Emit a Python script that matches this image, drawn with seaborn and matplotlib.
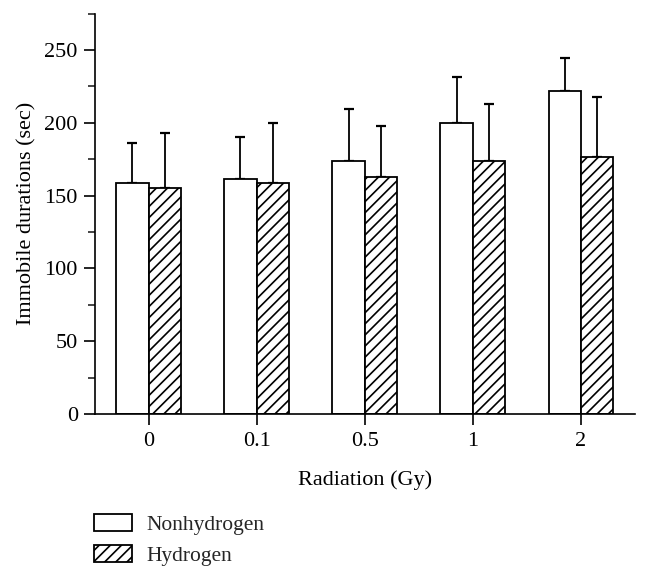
import matplotlib
matplotlib.use("Agg")
import matplotlib.pyplot as plt
from matplotlib.patches import Patch
from matplotlib.ticker import MultipleLocator
import numpy as np
import pandas as pd
import seaborn as sns

# ---- data ----
doses = ["0", "0.1", "0.5", "1", "2"]
groups = ["Nonhydrogen", "Hydrogen"]
nonhydrogen_mean = [158.6, 161.3, 173.4, 199.5, 221.9]
nonhydrogen_sd = [27.4, 29.1, 35.7, 32.2, 22.8]
hydrogen_mean = [155.4, 158.3, 162.7, 173.9, 176.7]
hydrogen_sd = [37.4, 41.2, 35.2, 39.3, 40.8]

df = pd.DataFrame({
    "dose": doses * 2,
    "group": [groups[0]] * len(doses) + [groups[1]] * len(doses),
    "mean": nonhydrogen_mean + hydrogen_mean,
})
sds = [nonhydrogen_sd, hydrogen_sd]

sns.set_theme(style="ticks")
plt.rcParams["font.family"] = ["Liberation Serif", "DejaVu Serif"]
plt.rcParams["hatch.linewidth"] = 1.2
plt.rcParams["hatch.color"] = "black"

fig = plt.figure(figsize=(6.5, 5.8), dpi=100)
ax = fig.add_axes([94.5 / 650, 1 - 414 / 580, (635 - 94.5) / 650, (414 - 13.5) / 580])

sns.barplot(data=df, x="dose", y="mean", hue="group", order=doses, hue_order=groups,
            palette={"Nonhydrogen": "white", "Hydrogen": "white"},
            edgecolor="black", linewidth=1.3, width=0.6, errorbar=None,
            saturation=1, ax=ax)

for container, sd, hatch in zip(ax.containers, sds, ["", "///"]):
    xs, ys = [], []
    for bar in container:
        bar.set_hatch(hatch)
        bar.set_edgecolor("black")
        bar.set_facecolor("white")
        xs.append(bar.get_x() + bar.get_width() / 2)
        ys.append(bar.get_height())
    ax.errorbar(xs, ys, yerr=[np.zeros(len(sd)), sd], fmt="none", ecolor="black",
                elinewidth=1.3, capsize=3.5, capthick=1.6, zorder=0)

if ax.get_legend() is not None:
    ax.get_legend().remove()

ax.set_xlim(-0.5, 4.5)
ax.set_ylim(0, 275)
ax.set_yticks(np.arange(0, 251, 50))
ax.yaxis.set_minor_locator(MultipleLocator(25))
ax.tick_params(axis="both", which="major", direction="out", length=8, width=1.2,
               labelsize=16, colors="black", pad=4)
ax.tick_params(axis="x", which="major", pad=5)
ax.tick_params(axis="y", which="minor", direction="out", length=5, width=1.2)
sns.despine(ax=ax)
for s in ["left", "bottom"]:
    ax.spines[s].set_linewidth(1.2)
    ax.spines[s].set_color("black")

ax.set_xlabel("Radiation (Gy)", fontsize=16, color="black", labelpad=14)
ax.set_ylabel("Immobile durations (sec)", fontsize=16, color="black", labelpad=6)

handles = [Patch(facecolor="white", edgecolor="black", linewidth=1.3, label="Nonhydrogen"),
           Patch(facecolor="white", edgecolor="black", linewidth=1.3, hatch="///", label="Hydrogen")]
fig.legend(handles=handles, loc="upper left", bbox_to_anchor=(94 / 650, 1 - 514 / 580),
           frameon=False, fontsize=15.5, handlelength=1.75, handleheight=0.85,
           handletextpad=0.7, labelspacing=0.45, borderpad=0, borderaxespad=0)

fig.savefig("out.png", dpi=100)
